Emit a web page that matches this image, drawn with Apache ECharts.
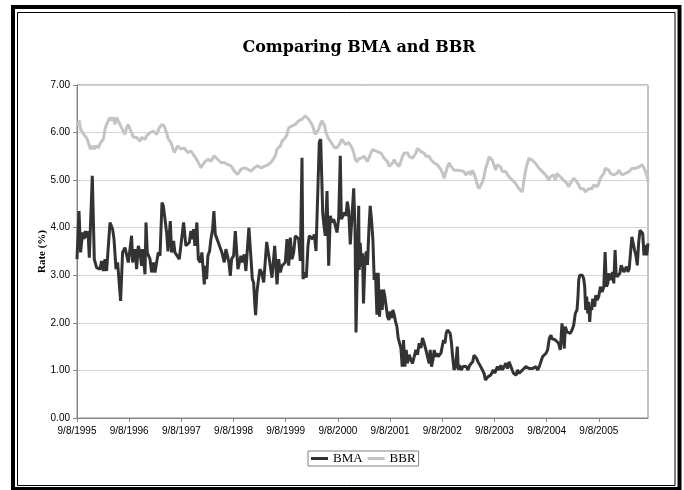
<!DOCTYPE html>
<html>
<head>
<meta charset="utf-8">
<script src="https://cdn.jsdelivr.net/npm/echarts@6/dist/echarts.min.js"></script>
<style>
html,body{margin:0;padding:0;background:#fff;}
#chart{width:684px;height:490px;}
</style>
</head>
<body>
<div id="chart"></div>
<script>
// Week index since 9/8/1995 (weekly data), rate in %
const yearLabels = ['9/8/1995','9/8/1996','9/8/1997','9/8/1998','9/8/1999','9/8/2000','9/8/2001','9/8/2002','9/8/2003','9/8/2004','9/8/2005'];
const yTicks = [0,1,2,3,4,5,6,7];
const seriesNames = ['BMA','BBR'];

const bma = [
[0,3.34],[2,4.35],[3.6,3.48],[5.6,3.9],[7,3.76],[8.3,3.93],[9.6,3.79],[11,3.93],[12.3,3.37],[15.3,5.09],[17.3,3.34],[19.6,3.16],[23,3.13],[24.6,3.3],[26.3,3.09],[28,3.34],[29.6,3.09],[33,4.11],[35.6,3.97],[37,3.76],[39,3.13],[40.6,3.27],[43.6,2.46],[44.3,2.43],[45.6,3.48],[48,3.58],[49.6,3.58],[51.3,3.27],[53,3.55],[54.6,3.83],[55.6,3.27],[58,3.55],[59.6,3.13],[61.3,3.62],[63,3.48],[64.6,3.2],[65.6,3.55],[68,3.02],[69,4.11],[70.3,3.48],[73,3.34],[74.6,3.06],[76.3,3.27],[78,3.06],[79.6,3.27],[81.3,3.48],[83,3.41],[85,4.53],[86.3,4.46],[88,4.18],[89.6,3.9],[91,3.5],
[93.3,4.14],[94.6,3.48],[96.6,3.72],[97.9,3.48],[99.9,3.51],[102.3,3.34],[103.9,3.3],[106.6,4.11],[108.9,3.62],[110.6,3.62],[112.3,3.69],[113.9,3.93],[115.6,3.76],[116.6,3.97],[117.9,3.62],[119.9,4.11],[121.3,3.34],[123.3,3.27],[124.9,3.48],[127.3,2.81],[128.3,3.2],[129.6,2.92],[130.9,3.41],[132.6,3.51],[133.9,3.76],[135.6,3.97],[136.9,4.35],[138.3,3.86],[139.9,3.9],[141.3,3.69],[143.3,3.69],[144.9,3.48],[147.3,3.27],[148.9,3.55],[150.6,3.51],[151.9,3.27],[153.3,2.99],[154.6,3.34],[156.6,3.41],[158.3,3.93],[159.6,3.97],[160.9,3.13],[162.6,3.13],[163.9,3.41],[165.6,3.27],[167.3,3.44],[168.9,3.09],[170.6,3.62],[171.9,4.0],[173.6,3.48],[175.3,2.92],[176.6,2.85],[177.9,2.36],[178.6,2.16],[179.9,2.64],[181.3,2.88],[182.9,3.13],[184.6,3.06],
[186.7,2.85],[189.7,3.7],[192.3,3.34],[195,2.95],[197.7,3.62],[200,2.81],[201.7,3.34],[203.3,3.06],[205,3.2],[206.7,3.2],[208.3,3.27],[210,3.76],[211.7,3.2],[213.3,3.79],[215,3.34],[216.7,3.48],[218.3,3.83],[220,3.86],[221.7,3.76],[223.3,3.3],[225,5.47],[226,2.92],[227.7,3.06],[229.3,2.95],[231,3.62],[232.3,3.83],[234,3.86],[235.7,3.76],[237.3,3.86],[239,3.51],[240.7,3.55],[242.3,5.8],[243.7,5.86],[245.7,4.32],[247,4.04],[248.3,3.83],[250,4.77],[251.7,3.2],[253.3,4.25],[255,4.11],[256.7,4.18],[258.3,4.21],[260,3.9],[261.7,4.21],[263.3,5.51],[264.3,4.18],[266,4.25],[267.7,4.32],[269,4.25],[270.3,4.55],[271.7,4.35],[273.3,3.65],[275,4.25],[276.7,4.83],[278,4.0],[279,1.8],[280.3,1.82],[281.7,4.46],
[282.2,3.11],[283.2,3.68],[284.5,3.18],[285.5,3.46],[286.5,2.41],[287.9,3.25],[289.2,3.5],[290.5,3.22],[291.9,3.96],[293.2,4.46],[294.5,4.17],[295.9,3.75],[297.2,2.9],[298.5,3.05],[299.9,2.17],[301.2,3.05],[302.5,2.13],[303.9,2.7],[305.2,2.27],[306.5,2.7],[307.9,2.55],[309.2,2.34],[310.5,2.13],[311.9,2.06],[313.2,2.24],[314.5,2.1],[315.9,2.27],[317.2,2.17],[318.5,2.03],[319.9,1.92],[321.2,1.68],[322.5,1.68],[323.9,1.47],[325.2,1.08],[326.5,1.64],[327.9,1.08],[329.2,1.43],[330.5,1.15],[332.2,1.33],[333.9,1.22],[335.5,1.15],[337.2,1.29],[338.9,1.43],[340.5,1.33],[342.2,1.57],[343.9,1.47],[345.5,1.68],[347.2,1.57],[348.9,1.43],[350.5,1.29],[352.2,1.15],[353.2,1.43],[354.5,1.08],[355.9,1.22],[357.2,1.43],[358.5,1.29],[359.9,1.36],[361.2,1.29],[362.5,1.29],[363.9,1.36],[365.2,1.5],[366.5,1.64],[367.9,1.57],[369.2,1.78],[370.5,1.85],[371.9,1.89],[373.2,1.78],[374.5,1.57],
[375.3,1.36],[377,1.01],[378.6,1.08],[380.3,1.5],[381.3,1.01],[382.6,1.11],[384.3,1.01],[386,1.08],[387.7,1.04],[389.3,1.08],[391,1.01],[392.7,1.11],[394.3,1.11],[395.7,1.18],[397,1.32],[398.4,1.36],[399.7,1.25],[401,1.18],[402.4,1.15],[403.7,1.08],[405.4,1.01],[407,0.94],[408.4,0.8],[409.7,0.76],[411.1,0.87],[412.4,0.83],[413.7,0.9],[415.1,0.87],[416.4,1.01],[417.8,0.94],[419.1,1.01],[420.4,1.08],[422.1,1.01],[423.8,1.11],[425.5,1.01],[427.1,1.08],[428.8,1.15],[430.5,1.04],[432.1,1.18],[433.8,1.22],[435.2,1.01],[436.5,0.94],[437.8,0.97],[439.2,0.9],[440.5,1.01],[442.2,0.94],[443.9,0.97],[445.5,1.01],[447.2,1.01],[448.9,1.08],[450.5,1.08],[452.2,1.04],[453.9,1.08],[455.6,1.04],[457.2,1.04],[458.9,1.08],[460.6,1.01],[462.3,1.08],[463.9,1.11],[465.6,1.29],[467.3,1.32],[469,1.36],[470.6,1.43],[472.3,1.67],[474,1.74],
[474.9,1.67],[476.6,1.71],[478.3,1.64],[480,1.67],[481.6,1.57],[483.3,1.43],[485,1.99],[486,1.78],[487.3,1.46],[488.3,1.92],[490,1.81],[491.6,1.85],[493.3,1.78],[495,1.85],[496.7,1.95],[498.3,2.2],[500,2.27],[501,2.55],[501.7,2.9],[502.7,3.0],[504,3.0],[505.4,3.0],[506.7,2.93],[507.7,2.76],[508.7,2.27],[509.7,2.55],[510.7,2.2],[511.7,2.44],[512.7,2.02],[513.7,2.34],[514.7,2.27],[515.7,2.51],[516.7,2.41],[517.7,2.34],[518.7,2.58],[520.1,2.48],[521.7,2.55],[523.4,2.76],[525.1,2.65],[526.8,2.76],[528.1,3.49],[529.4,2.76],[530.8,2.83],[531.8,3.04],[532.8,2.97],[534.1,2.9],[535.5,3.07],[536.8,2.83],[538.1,3.53],[539.1,3.04],[540.1,2.97],[541.5,3.0],[542.8,3.04],[544.2,3.21],[545.5,3.14],[546.8,3.07],[548.2,3.11],[549.5,3.18],[550.9,3.07],[552.2,3.14],[553.5,3.46],[554.9,3.81],[556.2,3.67],[557.6,3.53],[558.9,3.42],[560.3,3.21],[561.6,3.67],[563,3.95],[564.3,3.98],[565.7,3.88],[567,3.42],[568.4,3.63],[569.7,3.42],[571,3.67]
];

const bbr = [
[0,6.14],[2.3,6.25],[3.6,6.07],[5.6,6.0],[8,5.93],[10.3,5.86],[12.3,5.72],[13.6,5.65],[15.6,5.72],[17,5.65],[19,5.72],[21.3,5.68],[23.6,5.79],[26.3,5.86],[28,6.07],[29.6,6.17],[31.3,6.25],[33,6.32],[34.6,6.25],[36.3,6.32],[38,6.17],[39.6,6.32],[41.3,6.28],[43,6.17],[44.6,6.1],[46.3,6.03],[48,5.96],[49.6,6.1],[51.3,6.17],[53,6.07],[54.6,6.0],[56.3,5.9],[58,5.93],[59.6,5.9],[61.3,5.86],[63,5.82],[64.6,5.9],[66.3,5.93],[68,5.86],[69.6,5.93],[73,6.0],[76.3,6.03],[79.6,5.96],[82.3,6.1],[84.6,6.17],[87,6.14],[89.6,6.0],
[91,5.88],[94,5.79],[97.3,5.58],[100.6,5.72],[104,5.65],[107.3,5.68],[110.6,5.58],[114,5.61],[117.3,5.51],[120.6,5.4],[124,5.26],[127.3,5.37],[130.6,5.44],[134,5.4],[137.3,5.51],[140.6,5.44],[144,5.37],[147.3,5.37],[150.6,5.33],[154,5.3],[157.3,5.19],[160.6,5.12],[164,5.23],[167.3,5.26],[170.6,5.23],[174,5.19],[177.3,5.26],[180.6,5.3],[184,5.26],
[188.3,5.3],[191.7,5.33],[195,5.4],[198.3,5.51],[200,5.65],[201.7,5.61],[203.3,5.72],[205,5.82],[206.7,5.86],[208.3,5.89],[210,5.96],[211.7,6.1],[213.3,6.07],[215,6.14],[216.7,6.14],[218.3,6.17],[220,6.21],[221.7,6.25],[223.3,6.21],[225,6.28],[226.7,6.32],[228.3,6.35],[230,6.32],[231.7,6.28],[233.3,6.25],[235,6.17],[236.7,6.07],[238.3,5.96],[240,6.0],[241.7,6.07],[243.3,6.17],[245,6.25],[246.3,6.25],[247.7,6.14],[249,6.0],[251,5.89],[253.3,5.82],[255,5.79],[257.7,5.68],[260,5.68],[262.3,5.75],[265,5.86],[266.7,5.82],[268.3,5.75],[270,5.72],[271.7,5.79],[273.3,5.75],[275,5.68],[276.7,5.58],[278.3,5.44],[280,5.38],
[281.7,5.45],[283.9,5.46],[287.2,5.5],[290.5,5.39],[293.9,5.57],[295.5,5.64],[297.2,5.67],[300.5,5.6],[303.9,5.57],[307.2,5.46],[310.5,5.39],[312.2,5.29],[313.9,5.25],[315.5,5.36],[317.2,5.43],[318.9,5.36],[320.5,5.39],[322.2,5.29],[323.9,5.39],[325.5,5.5],[327.2,5.57],[328.9,5.6],[330.5,5.57],[332.2,5.5],[333.9,5.46],[335.5,5.46],[337.2,5.5],[338.9,5.57],[340.5,5.67],[342.2,5.64],[343.9,5.6],[345.5,5.57],[347.2,5.57],[348.9,5.5],[350.5,5.46],[352.2,5.5],[353.9,5.43],[355.5,5.39],[357.2,5.36],[358.9,5.39],[360.5,5.32],[362.2,5.29],[363.9,5.22],[365.5,5.15],[367.2,5.04],[368.9,5.08],[370.5,5.29],[372.2,5.36],[373.9,5.29],
[375.3,5.32],[377,5.21],[378.6,5.25],[380.3,5.21],[382,5.18],[383.6,5.2],[385.3,5.18],[387,5.18],[388.6,5.11],[390.3,5.14],[392,5.18],[393.6,5.11],[395.3,5.21],[397,5.14],[398.6,5.04],[400.3,4.9],[402,4.82],[403.6,4.79],[405.3,4.96],[407,5.07],[408.6,5.25],[410.3,5.35],[412,5.49],[413.6,5.46],[415.3,5.42],[417,5.32],[418.6,5.21],[420.3,5.32],[422,5.28],[423.6,5.28],[425.3,5.18],[427,5.14],[428.6,5.18],[430.3,5.14],[432,5.07],[433.6,5.07],[435.3,5.0],[437,4.96],[438.6,4.93],[440.3,4.9],[442,4.82],[443.6,4.79],[445.3,4.75],[447,5.0],[448.6,5.21],[450.3,5.35],[452,5.46],[453.6,5.46],[455.3,5.42],[457,5.39],[458.6,5.35],[460.3,5.32],[462,5.25],[463.6,5.21],[465.3,5.18],[467,5.14],[468.6,5.11],[470.3,5.07],[472,5.0],
[473.2,5.07],[474.9,5.04],[476.6,5.11],[478.3,5.0],[480,5.14],[481.6,5.11],[483.3,5.07],[485,5.04],[486.6,5.0],[488.3,4.96],[490,4.93],[491.6,4.86],[493.3,4.93],[495,4.96],[496.7,5.04],[498.3,5.0],[500,4.96],[501.7,4.9],[503.4,4.82],[505,4.86],[506.7,4.82],[508.4,4.75],[510,4.79],[511.7,4.82],[513.4,4.86],[515,4.82],[516.7,4.9],[518.4,4.93],[520,4.86],[521.7,4.93],[523.4,5.04],[525,5.07],[526.8,5.14],[528.4,5.25],[530.1,5.25],[531.8,5.21],[533.5,5.14],[535.1,5.18],[536.8,5.11],[538.5,5.14],[540.1,5.14],[541.8,5.21],[543.5,5.18],[545.2,5.11],[546.8,5.07],[548.5,5.14],[550.2,5.18],[551.9,5.18],[553.5,5.21],[555.2,5.25],[556.9,5.28],[558.6,5.25],[560.2,5.21],[561.9,5.28],[563.6,5.28],[565.3,5.32],[567,5.25],[568.6,5.18],[570.3,5.07],[571,4.96]
];

const WEEKS_PER_YEAR = 365.25 / 7;
const chart = echarts.init(document.getElementById('chart'), null, {renderer: 'canvas'});
chart.setOption({
  animation: false,
  backgroundColor: '#ffffff',
  title: {
    text: 'Comparing BMA and BBR',
    left: 354, top: 35, textAlign: 'center',
    textStyle: {fontFamily: 'DejaVu Serif', fontSize: 16, fontWeight: 'bold', color: '#000'}
  },
  legend: {
    data: seriesNames,
    left: 308, top: 451,
    orient: 'horizontal',
    icon: 'rect', itemWidth: 17, itemHeight: 3, itemGap: 5,
    padding: [1, 3],
    borderColor: '#808080', borderWidth: 1,
    textStyle: {fontFamily: 'Liberation Serif', fontSize: 13, color: '#000'}
  },
  grid: {left: 77, right: 36, top: 85, bottom: 72, show: true, borderColor: '#868686', borderWidth: 1, backgroundColor: 'transparent'},
  xAxis: {
    type: 'value', min: 0, max: 571, interval: WEEKS_PER_YEAR,
    axisLine: {lineStyle: {color: '#868686', width: 1}},
    axisTick: {show: true, length: 4, lineStyle: {color: '#868686'}},
    splitLine: {show: false},
    axisLabel: {
      margin: 8, color: '#000', fontFamily: 'Liberation Sans', fontSize: 10, showMaxLabel: false,
      formatter: function (v) {
        const n = Math.round(v / WEEKS_PER_YEAR);
        if (Math.abs(v - n * WEEKS_PER_YEAR) > 0.05) return '';
        return yearLabels[n] || '';
      }
    }
  },
  yAxis: {
    type: 'value', min: yTicks[0], max: yTicks[yTicks.length - 1], interval: 1,
    name: 'Rate (%)', nameLocation: 'middle', nameGap: 29, nameMoveOverlap: false,
    nameTextStyle: {fontFamily: 'Liberation Serif', fontWeight: 'bold', fontSize: 11, color: '#000'},
    axisLine: {show: true, lineStyle: {color: '#868686', width: 1}},
    axisTick: {show: true, length: 4, lineStyle: {color: '#868686'}},
    splitLine: {show: true, lineStyle: {color: '#d4d4d4', width: 1}},
    axisLabel: {margin: 7, color: '#000', fontFamily: 'Liberation Sans', fontSize: 10, formatter: v => v.toFixed(2)}
  },
  graphic: [
    {type: 'rect', silent: true, z: 100, shape: {x: 13, y: 7, width: 666.5, height: 482}, style: {fill: 'none', stroke: '#000', lineWidth: 4}},
    {type: 'rect', silent: true, z: 100, shape: {x: 17.5, y: 12.5, width: 657.5, height: 473}, style: {fill: 'none', stroke: '#000', lineWidth: 1}}
  ],
  series: [
    {name: seriesNames[0], type: 'line', data: bma, showSymbol: false, symbol: 'none',
     itemStyle: {color: '#333333'}, lineStyle: {color: '#333333', width: 3}, z: 3},
    {name: seriesNames[1], type: 'line', data: bbr, showSymbol: false, symbol: 'none',
     itemStyle: {color: '#c4c4c4'}, lineStyle: {color: '#c4c4c4', width: 3}, z: 2}
  ]
});
</script>
</body>
</html>
